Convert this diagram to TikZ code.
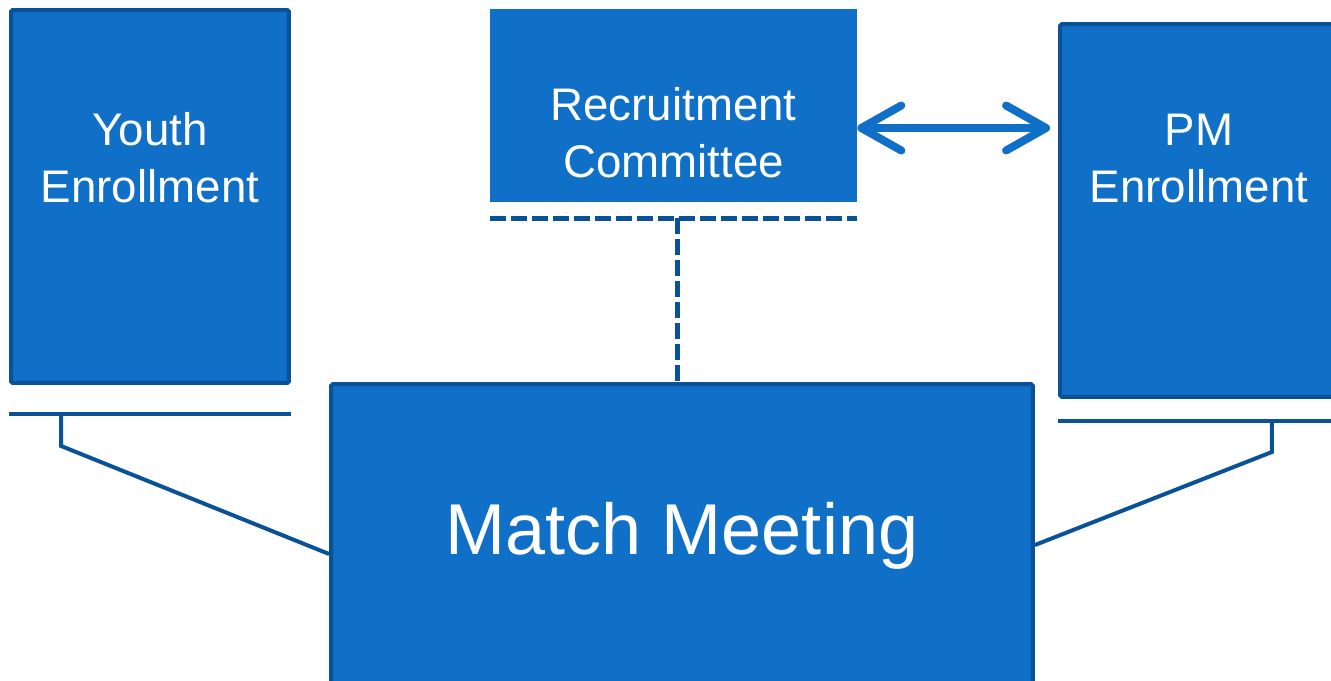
\documentclass[tikz,border=0pt]{standalone}
\usepackage{fontspec}
\setmainfont{Liberation Sans}
\usetikzlibrary{arrows.meta,positioning,calc}

\definecolor{boxblue}{HTML}{106FC6}
\definecolor{edgeblue}{HTML}{0A5297}

\begin{document}
\begin{tikzpicture}[
    x=0.02cm, y=-0.02cm,
    enrol/.style={rectangle, draw=edgeblue, fill=boxblue, line width=0.08cm, rounded corners=1pt, minimum width=5.56cm, minimum height=7.46cm, inner sep=0pt},
    panel/.style={rectangle, fill=boxblue, inner sep=0pt},
    caption/.style={text=white, align=center, inner sep=0pt, anchor=north, font=\fontsize{26}{32.4}\selectfont},
    link/.style={draw=edgeblue, line width=0.08cm},
    dashlink/.style={link, line width=0.1cm, dash pattern=on 0.32cm off 0.1cm},
    twoway/.style={draw=boxblue, line width=0.16cm, {Straight Barb[length=0.8cm,width=0.9cm,round]}-{Straight Barb[length=0.8cm,width=0.9cm,round]}}
    ]
    \useasboundingbox (0,0) rectangle (1331,680);

    \node[enrol, label={[caption, yshift=-2.08cm]north:Youth\\Enrollment}] (youth) at (150,196.5) {};
    \node[panel, minimum width=7.34cm, minimum height=3.86cm, label={[caption, yshift=-1.56cm]north:Recruitment\\Committee}] (recruit) at (673.5,105.5) {};
    \node[enrol, label={[caption, yshift=-1.84cm]north:PM\\Enrollment}] (pm) at (1199,210.5) {};
    \node[enrol, minimum width=14.04cm, minimum height=6.8cm, label={[caption, font=\fontsize{41}{48}\selectfont, yshift=-2.4cm]north:Match Meeting}] (match) at (682,554) {};

    % brackets under the enrollment boxes
    \coordinate (ybar) at ($(youth.south)+(0,29)$);
    \coordinate (pbar) at ($(pm.south)+(0,22)$);
    \draw[link] (youth.south west |- ybar) -- (youth.south east |- ybar);
    \draw[link] ($(youth.south west |- ybar)+(52,0)$) -- ++(0,32) -- (match.west);
    \draw[link] (pm.south west |- pbar) -- (pm.south east |- pbar);
    \draw[link] ($(pm.south east |- pbar)+(-68,0)$) -- ++(0,31) -- ([yshift=0.18cm]match.east);

    % committee link
    \coordinate (rbar) at ($(recruit.south)+(0,16)$);
    \coordinate (rstem) at ([xshift=-0.1cm]match.north);
    \draw[dashlink] (recruit.south west |- rbar) -- (recruit.south east |- rbar);
    \draw[dashlink] (rstem |- rbar) -- (rstem);

    \coordinate (arr) at ([yshift=-0.45cm]recruit.east);
    \draw[twoway, shorten >=0.16cm] (arr) -- (arr -| pm.west);
  \end{tikzpicture}
\end{document}
